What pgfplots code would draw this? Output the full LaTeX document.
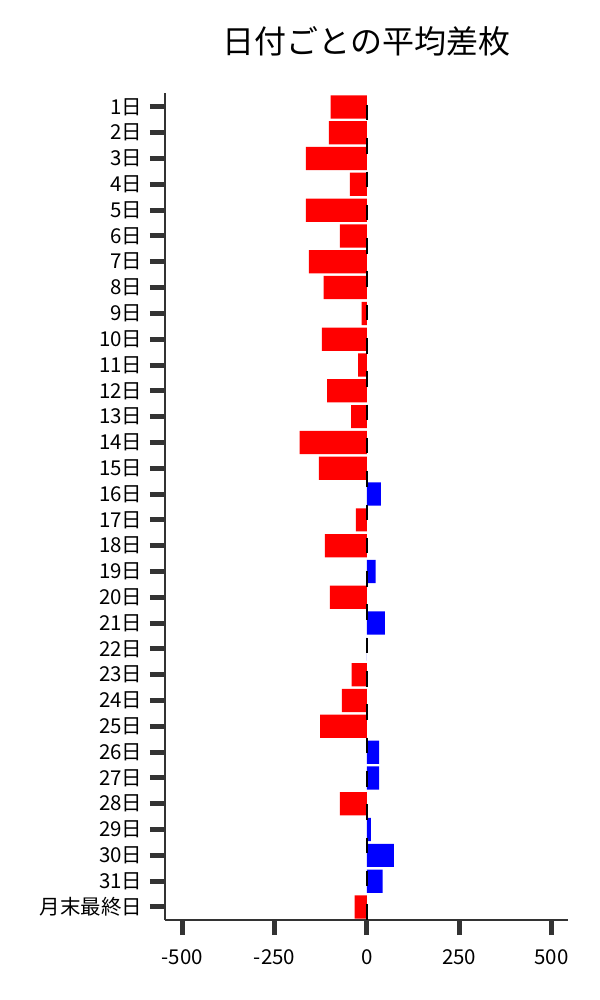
\documentclass[border=0pt]{standalone}
\usepackage{pgfplots}
\usepackage{pgfplotstable}
\pgfplotsset{compat=1.18}
\usepackage{fontspec}
\setmainfont{Noto Sans CJK JP}
\definecolor{tickc}{HTML}{333333}
\definecolor{barred}{HTML}{FF0000}
\definecolor{barblue}{HTML}{0000FF}
% y = 31 - day index (1日 at top)
\pgfplotstableread{
y v
31 -98
30 -103
29 -165
28 -46
27 -165
26 -73
25 -157
24 -117
23 -14
22 -122
21 -24
20 -108
19 -43
18 -182
17 -130
15 -30
14 -114
12 -100
9 -41
8 -68
7 -127
4 -73
0 -33
}\negdata
\pgfplotstableread{
y v
16 38
13 24
11 49
10 0
6 33
5 33
3 11
2 73
1 43
}\posdata
\begin{document}
\begin{tikzpicture}
\useasboundingbox (-165bp,-80bp) rectangle (435bp,920bp);
\begin{axis}[
  scale only axis, width=403bp, height=827bp,
  at={(0,0)}, anchor=south west,
  xmin=-547, xmax=545, ymin=-0.504, ymax=31.54,
  axis x line*=bottom, axis y line*=left,
  axis line style={-, line width=1.2bp, color=tickc},
  tick align=outside,
  major tick length=15bp,
  every tick/.style={line width=5bp, color=tickc},
  xtick={-500,-250,0,250,500},
  xticklabels={-500,-250,0,250,500},
  ytick={0,1,...,31},
  yticklabels={月末最終日,31日,30日,29日,28日,27日,26日,25日,24日,23日,22日,21日,20日,19日,18日,17日,16日,15日,14日,13日,12日,11日,10日,9日,8日,7日,6日,5日,4日,3日,2日,1日},
  tick label style={font=\fontsize{20.5bp}{24bp}\selectfont},
  yticklabel style={xshift=-4bp},
  xticklabel style={yshift=-11bp},
  /pgf/number format/assume math mode=true,
  title={日付ごとの平均差枚},
  title style={font=\fontsize{32bp}{38bp}\selectfont, at={(0.5,1)}, anchor=center, yshift=46bp},
  xbar, bar width=0.9, bar shift=0pt,
  clip=false,
]
\addplot[draw=none, fill=barred] table[x=v, y=y] {\negdata};
\addplot[draw=none, fill=barblue] table[x=v, y=y] {\posdata};
\addplot[xbar=false, sharp plot, black, line width=2.5bp, dash pattern=on 15.5bp off 17.8bp, dash phase=21.3bp] coordinates {(0,31.54) (0,-0.504)};
\end{axis}
\end{tikzpicture}
\end{document}
